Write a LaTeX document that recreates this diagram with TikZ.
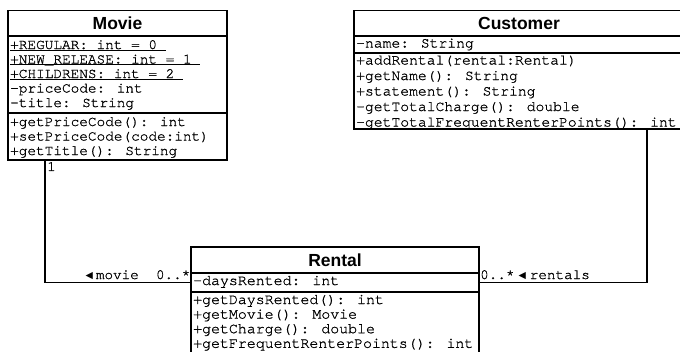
\documentclass[tikz,border=0pt]{standalone}
\usepackage{fontspec}
\setmainfont{Liberation Sans}
\newfontfamily\monofam[FakeBold=0.9]{texgyrecursor-regular.otf}
\newfontfamily\symfam{DejaVu Sans}
\newcommand\titlefont{\fontsize{17.5}{20}\selectfont\bfseries}
\newcommand\myul[1]{\setbox0\hbox{#1}\rlap{\rule[-1.4pt]{\wd0}{0.7pt}}\box0}
\newcommand\tri{\raisebox{0.8pt}{\symfam\fontsize{9.5}{9.5}\selectfont ◀}}
\tikzset{
  umlbox/.style={draw, line width=1.5pt, rectangle, inner sep=0pt, outer sep=0pt, anchor=north west},
  umltitle/.style={umlbox, font=\titlefont},
  members/.style={inner sep=0pt, anchor=base west, align=left},
  moviefont/.style={font=\monofam\fontsize{14.4}{14.5}\selectfont},
  custfont/.style={font=\monofam\fontsize{14.7}{15.5}\selectfont},
  rentfont/.style={font=\monofam\fontsize{14.9}{14.6}\selectfont},
  lab/.style={inner sep=0pt, font=\monofam\fontsize{14.3}{15}\selectfont},
  conn/.style={line width=1.6pt}
}
\begin{document}
\begin{tikzpicture}[x=1pt,y=-1pt]
\useasboundingbox (0,0) rectangle (680,351);
% Movie
\node[umltitle, minimum width=219pt, minimum height=25.5pt] (movie) at (8,10.5) {Movie};
\node[umlbox, minimum width=219pt, minimum height=77pt] (movieattr) at (movie.south west) {};
\node[umlbox, minimum width=219pt, minimum height=47pt] (moviemeth) at (movieattr.south west) {};
\node[members, moviefont] (movieattrtext) at ([shift={(2,13)}]movieattr.north west)
  {\begin{tabular}[t]{@{}l@{}}
   \myul{+REGULAR: int = 0\ }\\
   \myul{+NEW\_RELEASE: int = 1\ }\\
   \myul{+CHILDRENS: int = 2\ }\\
   -priceCode: int\\
   -title: String
   \end{tabular}};
\node[members, moviefont] (moviemethtext) at ([shift={(2,13)}]moviemeth.north west)
  {\begin{tabular}[t]{@{}l@{}}
   +getPriceCode(): int\\
   +setPriceCode(code:int)\\
   +getTitle(): String
   \end{tabular}};
% Customer
\node[umltitle, minimum width=330pt, minimum height=25.5pt] (customer) at (354,10.5) {Customer};
\node[umlbox, minimum width=330pt, minimum height=17pt] (custattr) at (customer.south west) {};
\node[umlbox, minimum width=330pt, minimum height=76pt] (custmeth) at (custattr.south west) {};
\node[members, custfont] (custattrtext) at ([shift={(2,11.5)}]custattr.north west)
  {\begin{tabular}[t]{@{}l@{}}
   -name: String
   \end{tabular}};
\node[members, custfont] (custmethtext) at ([shift={(2,11.5)}]custmeth.north west)
  {\begin{tabular}[t]{@{}l@{}}
   +addRental(rental:Rental)\\
   +getName(): String\\
   +statement(): String\\
   -getTotalCharge(): double\\
   -getTotalFrequentRenterPoints(): int
   \end{tabular}};
% Rental
\node[umltitle, minimum width=288pt, minimum height=26pt] (rental) at (191,247) {Rental};
\node[umlbox, minimum width=288pt, minimum height=19pt] (rentalattr) at (rental.south west) {};
\node[umlbox, minimum width=288pt, minimum height=61pt] (rentalmeth) at (rentalattr.south west) {};
\node[members, rentfont] (rentalattrtext) at ([shift={(2,12)}]rentalattr.north west)
  {\begin{tabular}[t]{@{}l@{}}
   -daysRented: int
   \end{tabular}};
\node[members, rentfont] (rentalmethtext) at ([shift={(2,12)}]rentalmeth.north west)
  {\begin{tabular}[t]{@{}l@{}}
   +getDaysRented(): int\\
   +getMovie(): Movie\\
   +getCharge(): double\\
   +getFrequentRenterPoints(): int
   \end{tabular}};
% connectors
\coordinate (mstart) at ([xshift=37pt]moviemeth.south west);
\coordinate (cstart) at ([xshift=-37pt]custmeth.south east);
\draw[conn] (mstart) |- (rentalattr.west);
\draw[conn] (cstart) |- (rentalattr.east);
% labels
\node[lab, anchor=north west] (mone) at ([shift={(2,2)}]mstart) {1};
\node[lab, anchor=base east] (mlabel) at ([shift={(-0.5,-3.5)}]rentalattr.west) {\tri\hspace{3pt}movie\ \ 0..*};
\node[lab, anchor=base west] (clabel) at ([shift={(1,-3.5)}]rentalattr.east) {0..*\hspace{4pt}\tri\hspace{4pt}rentals};
\end{tikzpicture}
\end{document}
